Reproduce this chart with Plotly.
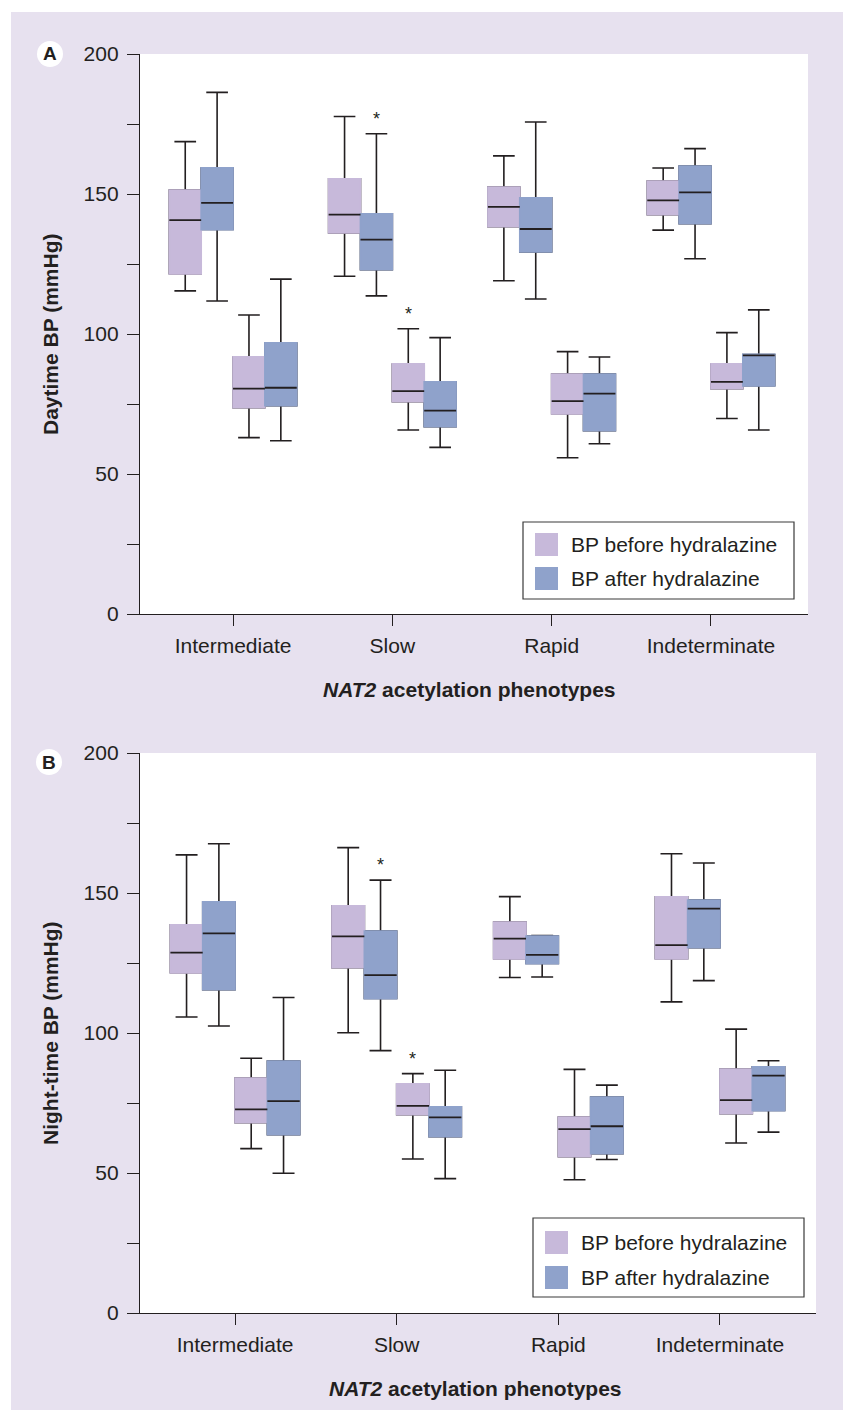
import plotly.graph_objects as go

# ---------------- data ----------------
categories = ["Intermediate", "Slow", "Rapid", "Indeterminate"]
series_names = ["BP before hydralazine", "BP after hydralazine"]
y_tick_vals = [0, 25, 50, 75, 100, 125, 150, 175, 200]
y_tick_text = ["0", "", "50", "", "100", "", "150", "", "200"]

# Panel A: daytime BP (mmHg) -- systolic (upper pair) and diastolic (lower pair)
day_sys_before_low = [115.4, 120.6, 119.0, 137.1]
day_sys_before_q1 = [121.5, 136.1, 138.3, 142.6]
day_sys_before_med = [140.7, 142.6, 145.4, 147.7]
day_sys_before_q3 = [151.4, 155.4, 152.5, 154.6]
day_sys_before_up = [168.7, 177.7, 163.6, 159.3]

day_sys_after_low = [111.8, 113.6, 112.5, 126.9]
day_sys_after_q1 = [137.3, 123.0, 129.3, 139.4]
day_sys_after_med = [146.8, 133.7, 137.5, 150.6]
day_sys_after_q3 = [159.3, 142.9, 148.6, 160.0]
day_sys_after_up = [186.3, 171.5, 175.7, 166.2]

day_dia_before_low = [63.0, 65.7, 55.8, 69.8]
day_dia_before_q1 = [73.7, 75.8, 71.5, 80.5]
day_dia_before_med = [80.5, 79.6, 76.0, 82.9]
day_dia_before_q3 = [91.8, 89.3, 85.7, 89.3]
day_dia_before_up = [106.8, 101.9, 93.7, 100.5]

day_dia_after_low = [61.9, 59.5, 60.8, 65.7]
day_dia_after_q1 = [74.4, 66.9, 65.5, 81.5]
day_dia_after_med = [80.8, 72.6, 78.7, 92.4]
day_dia_after_q3 = [96.8, 82.9, 85.7, 92.7]
day_dia_after_up = [119.6, 98.7, 91.8, 108.6]

# Panel B: night-time BP (mmHg)
night_sys_before_low = [105.7, 100.1, 119.8, 111.1]
night_sys_before_q1 = [121.5, 123.3, 126.5, 126.5]
night_sys_before_med = [128.7, 134.5, 133.7, 131.4]
night_sys_before_q3 = [138.6, 145.4, 139.6, 148.6]
night_sys_before_up = [163.6, 166.2, 148.7, 164.0]

night_sys_after_low = [102.5, 93.7, 120.0, 118.7]
night_sys_after_q1 = [115.5, 112.3, 124.8, 130.5]
night_sys_after_med = [135.6, 120.7, 127.9, 144.4]
night_sys_after_q3 = [146.8, 136.4, 134.6, 147.5]
night_sys_after_up = [167.6, 154.6, 134.8, 160.7]

night_dia_before_low = [58.7, 55.0, 47.6, 60.7]
night_dia_before_q1 = [68.0, 70.8, 55.8, 71.2]
night_dia_before_med = [72.7, 74.0, 65.7, 76.0]
night_dia_before_q3 = [83.9, 81.8, 70.0, 87.1]
night_dia_before_up = [91.0, 85.5, 87.0, 101.4]

night_dia_after_low = [49.9, 48.0, 54.8, 64.6]
night_dia_after_q1 = [63.7, 63.0, 56.9, 72.3]
night_dia_after_med = [75.7, 69.9, 66.7, 84.8]
night_dia_after_q3 = [90.0, 73.6, 77.1, 87.9]
night_dia_after_up = [112.7, 86.7, 81.4, 90.1]

# significance markers: (category, box slot 0..3)
significant_boxes = [("Slow", 1), ("Slow", 2)]

# ---------------- style ----------------
W, H = 843, 1410
FONT = "Liberation Sans, Arial, Helvetica, sans-serif"
INK = "#231f20"
LAV = "#e7e1ef"
C_BEFORE = "#c7b9da"
C_AFTER = "#8fa2cb"
BOX_GAP = 0.2
N_SLOTS = 4


def px(x):
    return x / W


def py(y):
    return 1 - y / H


panels = [
    dict(
        xa="x", ya="y", group="A", letter="A",
        title="Daytime BP (mmHg)",
        xdom=(140, 808), ydom=(54, 614),
        stats=[
            (C_BEFORE, day_sys_before_low, day_sys_before_q1, day_sys_before_med, day_sys_before_q3, day_sys_before_up),
            (C_AFTER, day_sys_after_low, day_sys_after_q1, day_sys_after_med, day_sys_after_q3, day_sys_after_up),
            (C_BEFORE, day_dia_before_low, day_dia_before_q1, day_dia_before_med, day_dia_before_q3, day_dia_before_up),
            (C_AFTER, day_dia_after_low, day_dia_after_q1, day_dia_after_med, day_dia_after_q3, day_dia_after_up),
        ],
        xrange=(-0.584, 3.609),
        legend=dict(box=(523, 522, 794, 599), sw_x=535, sw_y=(533, 567), txt_x=569),
        letter_c=(50, 54),
        ytitle_x=50,
        xtitle=(469, 689),
    ),
    dict(
        xa="x2", ya="y2", group="B", letter="B",
        title="Night-time BP (mmHg)",
        xdom=(140, 816), ydom=(753, 1313),
        stats=[
            (C_BEFORE, night_sys_before_low, night_sys_before_q1, night_sys_before_med, night_sys_before_q3, night_sys_before_up),
            (C_AFTER, night_sys_after_low, night_sys_after_q1, night_sys_after_med, night_sys_after_q3, night_sys_after_up),
            (C_BEFORE, night_dia_before_low, night_dia_before_q1, night_dia_before_med, night_dia_before_q3, night_dia_before_up),
            (C_AFTER, night_dia_after_low, night_dia_after_q1, night_dia_after_med, night_dia_after_q3, night_dia_after_up),
        ],
        xrange=(-0.588, 3.594),
        legend=dict(box=(533, 1218, 804, 1297), sw_x=545, sw_y=(1231, 1266), txt_x=579),
        letter_c=(49, 762),
        ytitle_x=50,
        xtitle=(476, 1388),
    ),
]

fig = go.Figure()
shapes = []
annotations = []

for p in panels:
    common = dict(x=categories, xaxis=p["xa"], yaxis=p["ya"], alignmentgroup=p["group"],
                  showlegend=False, hoverinfo="skip", whiskerwidth=0.68, boxpoints=False)
    # layer 1: full boxes with dark whiskers
    for k, (col, low, q1, med, q3, up) in enumerate(p["stats"]):
        fig.add_trace(go.Box(q1=q1, median=med, q3=q3, lowerfence=low, upperfence=up,
                             fillcolor=col, line=dict(color=INK, width=1.6),
                             offsetgroup=str(k), **common))
    # layer 2: same boxes drawn again without outline (hides the box border)
    for k, (col, low, q1, med, q3, up) in enumerate(p["stats"]):
        fig.add_trace(go.Box(q1=q1, median=q1, q3=q3, lowerfence=q1, upperfence=q3,
                             fillcolor=col, line=dict(color=col, width=1.7),
                             offsetgroup=str(k), **common))
    # layer 3: median lines
    for k, (col, low, q1, med, q3, up) in enumerate(p["stats"]):
        fig.add_trace(go.Box(q1=med, median=med, q3=med, lowerfence=med, upperfence=med,
                             fillcolor="rgba(0,0,0,0)", line=dict(color=INK, width=1.8),
                             offsetgroup=str(k), **common))

    # significance asterisks
    for cat, slot in significant_boxes:
        ci = categories.index(cat)
        up = p["stats"][slot][5][ci]
        annotations.append(dict(
            x=ci + (slot - (N_SLOTS - 1) / 2) * (1 - BOX_GAP) / N_SLOTS, y=up,
            xref=p["xa"], yref=p["ya"], text="*", showarrow=False,
            yanchor="bottom", yshift=3, font=dict(family=FONT, size=18, color=INK)))

    # y-axis title
    annotations.append(dict(
        x=px(p["ytitle_x"]), y=py((p["ydom"][0] + p["ydom"][1]) / 2), xref="paper", yref="paper",
        text="<b>" + p["title"] + "</b>", textangle=-90, showarrow=False,
        xanchor="center", yanchor="middle", font=dict(family=FONT, size=21, color=INK)))
    # x-axis title
    annotations.append(dict(
        x=px(p["xtitle"][0]), y=py(p["xtitle"][1]), xref="paper", yref="paper",
        text="<b><i>NAT2</i> acetylation phenotypes</b>", showarrow=False,
        xanchor="center", yanchor="middle", font=dict(family=FONT, size=21, color=INK)))

    # panel letter in white disc
    cx, cy = p["letter_c"]
    shapes.append(dict(type="circle", xref="paper", yref="paper",
                       x0=px(cx - 13), x1=px(cx + 13), y0=py(cy + 13), y1=py(cy - 13),
                       fillcolor="white", line=dict(width=0), layer="above"))
    annotations.append(dict(x=px(cx), y=py(cy), xref="paper", yref="paper", text="<b>" + p["letter"] + "</b>",
                            showarrow=False, xanchor="center", yanchor="middle",
                            font=dict(family=FONT, size=19, color=INK)))

    # legend box
    lg = p["legend"]
    bx0, by0, bx1, by1 = lg["box"]
    shapes.append(dict(type="rect", xref="paper", yref="paper",
                       x0=px(bx0), x1=px(bx1), y0=py(by1), y1=py(by0),
                       fillcolor="white", line=dict(color="#3a3a3a", width=1.2), layer="above"))
    for name, col, sy in zip(series_names, [C_BEFORE, C_AFTER], lg["sw_y"]):
        shapes.append(dict(type="rect", xref="paper", yref="paper",
                           x0=px(lg["sw_x"]), x1=px(lg["sw_x"] + 23), y0=py(sy + 23), y1=py(sy),
                           fillcolor=col, line=dict(width=0), layer="above"))
        annotations.append(dict(x=px(lg["txt_x"]), y=py(sy + 11.5), xref="paper", yref="paper",
                                text=name, showarrow=False, xanchor="left", yanchor="middle",
                                font=dict(family=FONT, size=21, color=INK)))

# white border strips (top & left) around the lavender background
shapes.append(dict(type="rect", xref="paper", yref="paper", x0=0, x1=px(11), y0=0, y1=1,
                   fillcolor="white", line=dict(width=0), layer="below"))
shapes.append(dict(type="rect", xref="paper", yref="paper", x0=0, x1=1, y0=py(12), y1=1,
                   fillcolor="white", line=dict(width=0), layer="below"))

axis_common = dict(showgrid=False, zeroline=False, showline=True, linecolor=INK, linewidth=1.3,
                   ticks="outside", tickcolor=INK, tickwidth=1.3, automargin=False,
                   tickfont=dict(family=FONT, size=21, color=INK), fixedrange=True)

layout = dict(
    width=W, height=H, margin=dict(l=0, r=0, t=0, b=0, autoexpand=False),
    paper_bgcolor=LAV, plot_bgcolor="white",
    boxmode="group", boxgap=BOX_GAP, boxgroupgap=0,
    showlegend=False, shapes=shapes, annotations=annotations,
    font=dict(family=FONT, color=INK),
)
for i, p in enumerate(panels):
    sx = "" if i == 0 else str(i + 1)
    layout["xaxis" + sx] = dict(
        domain=[px(p["xdom"][0]), px(p["xdom"][1])], anchor="y" + sx,
        type="category", categoryorder="array", categoryarray=categories,
        range=list(p["xrange"]), ticklen=11, ticklabelstandoff=2, **axis_common)
    layout["yaxis" + sx] = dict(
        domain=[py(p["ydom"][1]), py(p["ydom"][0])], anchor="x" + sx,
        range=[0, 200], tickmode="array", tickvals=y_tick_vals, ticktext=y_tick_text,
        ticklen=12, ticklabelstandoff=4, **axis_common)

fig.update_layout(**layout)
fig.write_html("out.html", config={"displayModeBar": False},
               post_script="document.body.style.margin='0';document.documentElement.style.overflow='hidden';")
